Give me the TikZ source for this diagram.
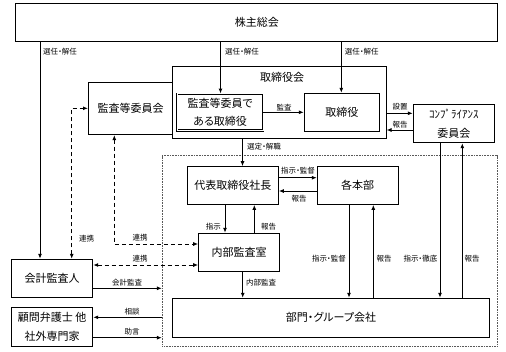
\documentclass[tikz,border=0pt]{standalone}
\usepackage{fontspec}
\setmainfont{Noto Sans CJK JP}[RawFeature={+palt}]
\usetikzlibrary{arrows.meta,calc}
\newcommand\boxfont{\fontsize{11bp}{18bp}\selectfont}
\newcommand\lblfont{\fontsize{7.5bp}{9bp}\selectfont}
\begin{document}
\begin{tikzpicture}[x=1bp,y=-1bp,
  box/.style={draw, line width=1bp, inner sep=0pt, align=center, font=\boxfont},
  sz/.style 2 args={minimum width=#1bp, minimum height=#2bp},
  dbox/.style={box, line width=0.7bp, double=white, double distance=1bp},
  area/.style={draw=black!65, line width=0.8bp, dash pattern=on 0.8bp off 0.8bp, inner sep=0pt},
  arr/.style={line width=1bp, -{Latex[length=5bp,width=4bp]}},
  darr/.style={line width=1bp, dash pattern=on 4bp off 3bp, {Latex[length=5bp,width=4bp]}-{Latex[length=5bp,width=4bp]}},
  lbl/.style={inner sep=0pt, font=\lblfont},
]
\useasboundingbox (0,0) rectangle (506,351);

% boxes
\node[box, sz={481.5}{38.5}] (kabu) at (256.75,22.25) {株主総会};
\node[area, sz={334.7}{190.3}] (exec) at (329.65,250.85) {};
\node[box, sz={84}{52}] (kansakai) at (130.5,108.5) {監査等委員会};
\node[box, sz={213.5}{72}] (torikai) at (279.25,102.5) {};
\node[lbl, font=\boxfont] (torikaiL) at (282,77) {取締役会};
\node[dbox, sz={85.9}{36.6}, fill=white] (nijuu) at (220.15,112.2) {監査等委員で\\ある取締役};
\node[box, sz={75}{38.4}] (tori) at (341.8,112.5) {取締役};
\node[box, sz={81}{38.4}, font=\fontsize{11bp}{19bp}\selectfont] (comp) at (453.8,123.5) {ｺﾝﾌﾟﾗｲｱﾝｽ\\委員会};
\node[box, sz={91}{37.6}] (daihyo) at (232.8,185.5) {代表取締役社長};
\node[box, sz={80.7}{37.6}] (honbu) at (357.65,185.5) {各本部};
\node[box, sz={80.6}{37.7}] (naibu) at (239,252.15) {内部監査室};
\node[box, sz={316.6}{39}] (bumon) at (331,317.8) {部門・グループ会社};
\node[box, sz={81}{38}] (kaikei) at (52.2,278.3) {会計監査人};
\node[box, sz={81}{38.3}, font=\fontsize{11bp}{19.5bp}\selectfont] (komon) at (52.2,326.85) {顧問弁護士 他\\社外専門家};

% solid connectors
\draw[arr] (kabu.south -| 40,0) -- (kaikei.north -| 40,0);
\node[lbl, anchor=west] (l1) at (43,52) {選任・解任};
\draw[arr] (kabu.south -| 220.5,0) -- (nijuu.north -| 220.5,0);
\node[lbl, anchor=west] (l2) at (225,52) {選任・解任};
\draw[arr] (kabu.south -| 341.3,0) -- (tori.north -| 341.3,0);
\node[lbl, anchor=west] (l3) at (344.7,52) {選任・解任};

\draw[arr] (nijuu.east |- 0,112.3) -- (tori.west |- 0,112.3);
\node[lbl] (l4) at (284,107.5) {監査};
\draw[arr] (torikai.east |- 0,113.3) -- (comp.west |- 0,113.3);
\node[lbl] (l5) at (400,107) {設置};
\draw[arr] (comp.west |- 0,130) -- (torikai.east |- 0,130);
\node[lbl] (l6) at (400,124.5) {報告};

\draw[arr] (torikai.south -| 242.5,0) -- (daihyo.north -| 242.5,0);
\node[lbl, anchor=west] (l7) at (247,147) {選定・解職};

\draw[arr] (daihyo.east |- 0,177.7) -- (honbu.west |- 0,177.7);
\node[lbl] (l8) at (298,171) {指示・監督};
\draw[arr] (honbu.west |- 0,191) -- (daihyo.east |- 0,191);
\node[lbl] (l9) at (299,198.5) {報告};

\draw[arr] (daihyo.south -| 225,0) -- (naibu.north -| 225,0);
\node[lbl, anchor=east] (l10) at (221,227) {指示};
\draw[arr] (naibu.north -| 254.3,0) -- (daihyo.south -| 254.3,0);
\node[lbl, anchor=west] (l11) at (261,227) {報告};
\draw[arr] (naibu.south -| 242.7,0) -- (bumon.north -| 242.7,0);
\node[lbl, anchor=west] (l12) at (246,283) {内部監査};

\draw[arr] (honbu.south -| 349,0) -- (bumon.north -| 349,0);
\node[lbl, anchor=east] (l13) at (346,258.5) {指示・監督};
\draw[arr] (bumon.north -| 373.3,0) -- (honbu.south -| 373.3,0);
\node[lbl, anchor=west] (l14) at (376.5,258.5) {報告};
\draw[arr] (comp.south -| 440,0) -- (bumon.north -| 440,0);
\node[lbl, anchor=east] (l15) at (437.5,258.5) {指示・徹底};
\draw[arr] (bumon.north -| 462.3,0) -- (comp.south -| 462.3,0);
\node[lbl, anchor=west] (l16) at (464.5,258.5) {報告};

\draw[arr] (kaikei.east |- 0,288.3) -- (exec.west |- 0,288.3);
\node[lbl] (l17) at (127,283) {会計監査};
\draw[arr] (exec.west |- 0,317.3) -- (komon.east |- 0,317.3);
\node[lbl] (l18) at (132,311.5) {相談};
\draw[arr] (komon.east |- 0,337.7) -- (exec.west |- 0,337.7);
\node[lbl] (l19) at (132,332) {助言};

% dashed connectors
\draw[darr] (kaikei.east |- 0,265) -- (naibu.west |- 0,265);
\node[lbl] (l20) at (140,259) {連携};
\draw[darr] (kansakai.south -| 114.3,0) |- (naibu.west |- 0,244);
\node[lbl] (l21) at (140,238) {連携};
\draw[darr] (kaikei.north -| 71.7,0) |- (kansakai.west |- 0,108.3);
\node[lbl, anchor=west] (l22) at (79,238.3) {連携};
\end{tikzpicture}
\end{document}
